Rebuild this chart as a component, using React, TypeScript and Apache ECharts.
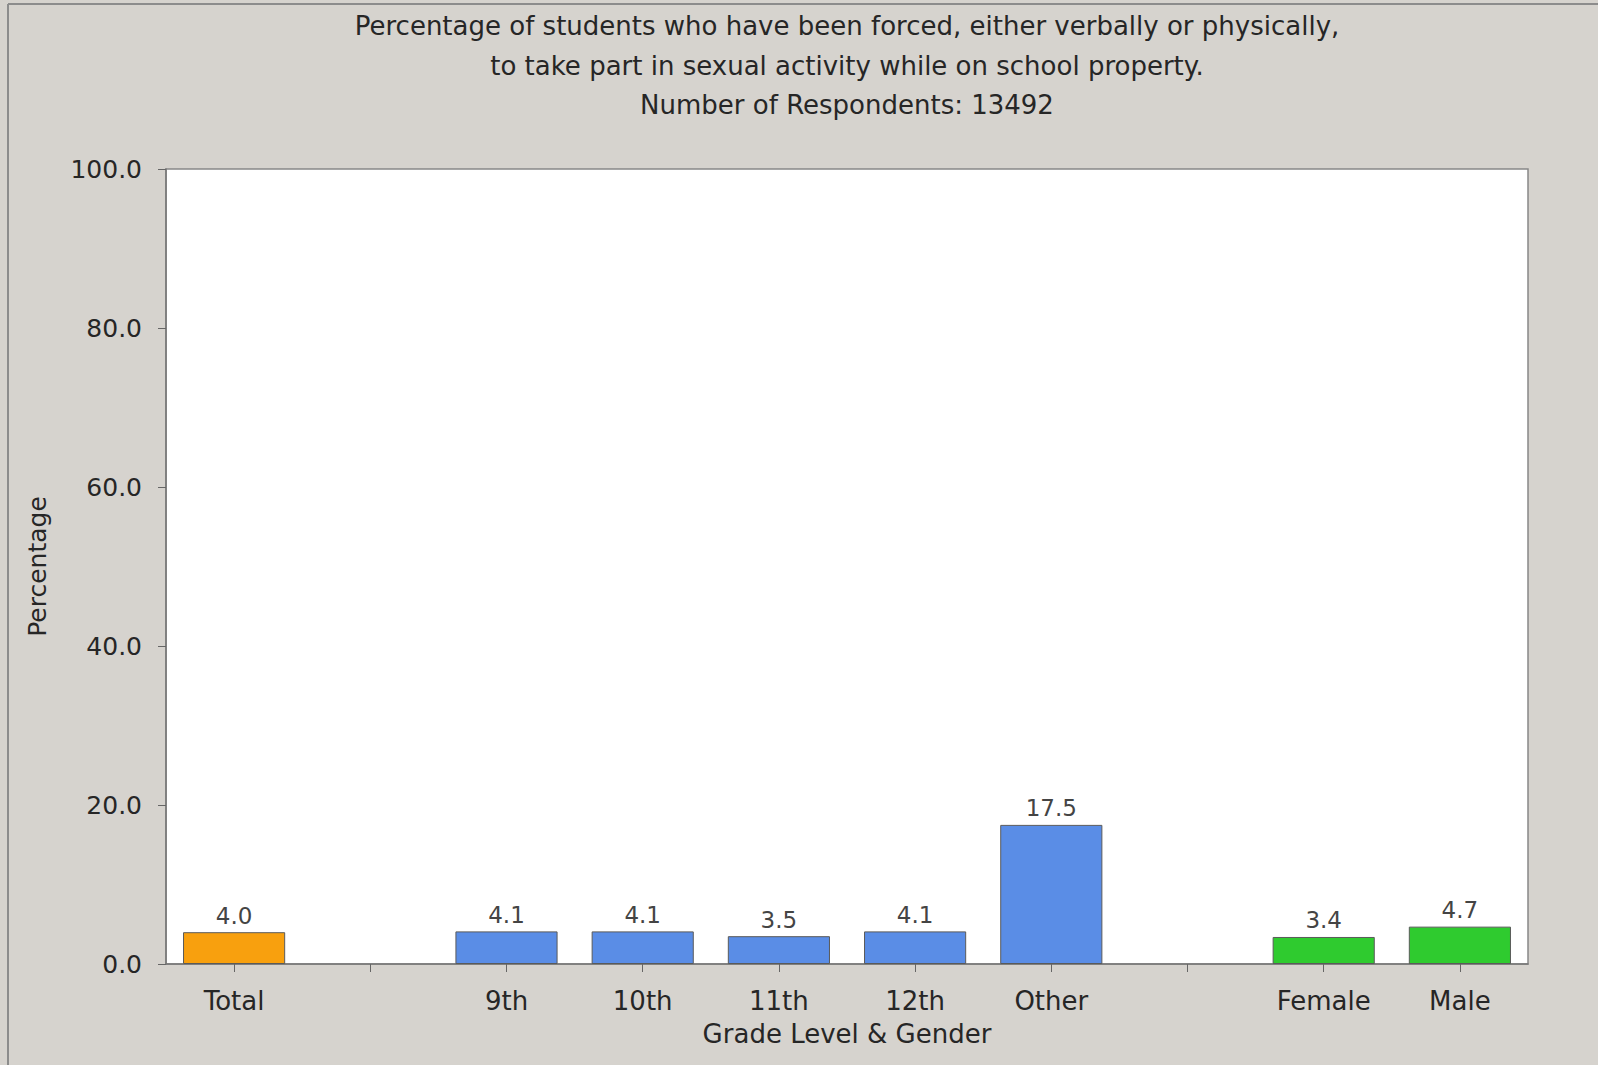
import React, { useEffect, useRef } from "react";
import * as echarts from "echarts";

const categories = ["Total", "gap1", "9th", "10th", "11th", "12th", "Other", "gap2", "Female", "Male"];
const values: (number | null)[] = [4.0, null, 4.1, 4.1, 3.5, 4.1, 17.5, null, 3.4, 4.7];
const barColors = ["#f8a00e", "", "#5a8de6", "#5a8de6", "#5a8de6", "#5a8de6", "#5a8de6", "", "#2fcb2f", "#2fcb2f"];
const yTicks = [0, 20, 40, 60, 80, 100];
const titleLines = [
  "Percentage of students who have been forced, either verbally or physically,",
  "to take part in sexual activity while on school property.",
  "Number of Respondents: 13492",
];
const xAxisTitle = "Grade Level & Gender";
const yAxisTitle = "Percentage";

const FONT = "DejaVu Sans";

export default function App() {
  const ref = useRef<HTMLDivElement>(null);
  useEffect(() => {
    if (!ref.current) return;
    const chart = echarts.init(ref.current, undefined, { renderer: "svg" });
    const titleY = [25.5, 66, 105];
    chart.setOption({
      animation: false,
      backgroundColor: "#d6d3ce",
      textStyle: { fontFamily: FONT },
      graphic: [
        { type: "line", shape: { x1: 8, y1: 4, x2: 8, y2: 1065 }, style: { stroke: "#8c8c8c", lineWidth: 2 }, z: 10 },
        { type: "line", shape: { x1: 8, y1: 4, x2: 1598, y2: 4 }, style: { stroke: "#8c8c8c", lineWidth: 2 }, z: 10 },
        ...titleLines.map((t, i) => ({
          type: "text",
          x: 847,
          y: titleY[i],
          style: {
            text: t,
            fill: "#262626",
            font: `26px "${FONT}"`,
            textAlign: "center",
            textVerticalAlign: "middle",
          },
        })),
      ],
      grid: {
        left: 166,
        top: 169,
        right: 70,
        bottom: 101,
        show: true,
        backgroundColor: "#ffffff",
        borderColor: "#888888",
        borderWidth: 1.5,
      },
      xAxis: {
        type: "category",
        data: categories,
        name: xAxisTitle,
        nameLocation: "middle",
        nameGap: 57,
        nameTextStyle: { fontSize: 26, color: "#262626", fontFamily: FONT },
        axisLine: { lineStyle: { color: "#777", width: 1.5 } },
        axisTick: { show: true, alignWithLabel: true, interval: 0, length: 8, lineStyle: { color: "#666" } },
        axisLabel: {
          interval: 0,
          margin: 24,
          fontSize: 26,
          color: "#262626",
          fontFamily: FONT,
          formatter: (v: string) => (v.startsWith("gap") ? "" : v),
        },
      },
      yAxis: {
        type: "value",
        min: yTicks[0],
        max: yTicks[yTicks.length - 1],
        interval: 20,
        name: yAxisTitle,
        nameLocation: "middle",
        nameGap: 116,
        nameTextStyle: { fontSize: 25, color: "#262626", fontFamily: FONT },
        splitLine: { show: false },
        axisLine: { show: true, lineStyle: { color: "#777", width: 1.5 } },
        axisTick: { show: true, length: 8, lineStyle: { color: "#666" } },
        axisLabel: {
          margin: 24,
          fontSize: 25,
          color: "#262626",
          fontFamily: FONT,
          formatter: (v: number) => v.toFixed(1),
        },
      },
      series: [
        {
          type: "bar",
          barWidth: "75%",
          data: values.map((v, i) => ({
            value: v,
            itemStyle: { color: barColors[i] || "#000", borderColor: "#5a5a5a", borderWidth: 1 },
          })),
          label: {
            show: true,
            position: "top",
            distance: 5,
            fontSize: 23,
            color: "#444",
            fontFamily: FONT,
            formatter: (p: any) => (p.value == null ? "" : Number(p.value).toFixed(1)),
          },
        },
      ],
    });
    return () => chart.dispose();
  }, []);
  return (
    <div
      ref={ref}
      style={{ position: "fixed", left: 0, top: 0, width: 1598, height: 1065 }}
    />
  );
}
